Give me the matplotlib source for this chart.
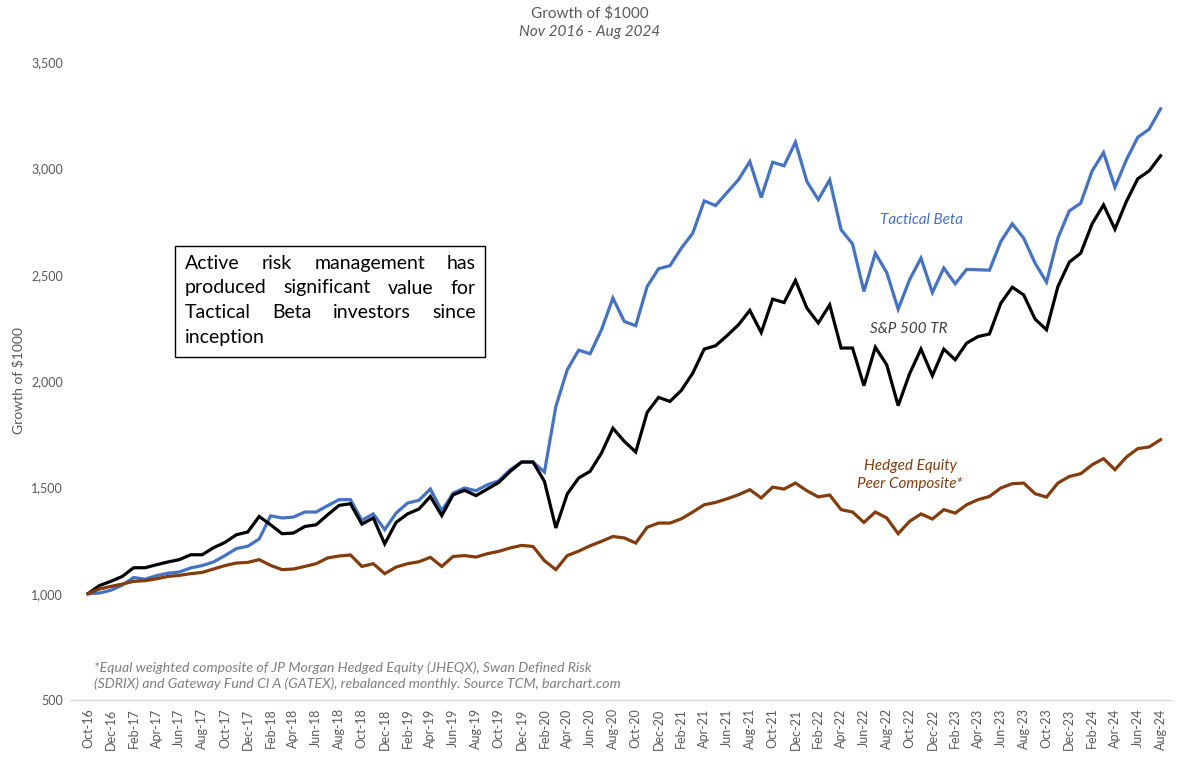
import matplotlib
matplotlib.use('Agg')
import matplotlib.pyplot as plt
from matplotlib.patches import Rectangle
import pandas as pd

# Monthly growth of $1000, Oct-16 .. Aug-24
months = pd.date_range('2016-10-01', '2024-08-01', freq='MS')
month_labels = [d.strftime('%b-%y') for d in months]

tactical_beta = [
    1000, 1003, 1016, 1040, 1076, 1068, 1085, 1096, 1102, 1121,
    1132, 1149, 1179, 1212, 1223, 1257, 1366, 1356, 1360, 1384,
    1384, 1414, 1442, 1442, 1345, 1375, 1301, 1379, 1426, 1439,
    1492, 1390, 1473, 1497, 1484, 1512, 1531, 1583, 1619, 1619,
    1572, 1880, 2053, 2145, 2128, 2241, 2390, 2280, 2260, 2444,
    2528, 2542, 2625, 2695, 2847, 2825, 2886, 2946, 3032, 2863,
    3029, 3012, 3123, 2938, 2853, 2946, 2711, 2645, 2421, 2601,
    2510, 2338, 2476, 2578, 2416, 2531, 2457, 2525, 2523, 2521,
    2656, 2739, 2672, 2554, 2465, 2672, 2800, 2836, 2988, 3074,
    2911, 3040, 3146, 3184, 3280,
]

sp500_tr = [
    1000, 1038, 1058, 1081, 1122, 1122, 1136, 1149, 1160, 1183,
    1183, 1216, 1241, 1277, 1290, 1363, 1324, 1282, 1285, 1316,
    1324, 1371, 1415, 1423, 1327, 1356, 1234, 1335, 1375, 1398,
    1457, 1367, 1465, 1486, 1461, 1492, 1523, 1575, 1619, 1619,
    1528, 1309, 1469, 1544, 1575, 1661, 1778, 1716, 1666, 1852,
    1923, 1904, 1956, 2037, 2150, 2166, 2213, 2264, 2332, 2228,
    2385, 2369, 2473, 2343, 2273, 2358, 2155, 2155, 1978, 2159,
    2076, 1884, 2034, 2150, 2025, 2150, 2100, 2178, 2209, 2221,
    2366, 2441, 2405, 2291, 2241, 2444, 2559, 2601, 2739, 2828,
    2714, 2844, 2951, 2988, 3059,
]

hedged_equity = [
    1000, 1022, 1034, 1045, 1058, 1061, 1070, 1081, 1086, 1094,
    1100, 1116, 1132, 1144, 1147, 1160, 1133, 1113, 1116, 1128,
    1141, 1168, 1177, 1182, 1128, 1141, 1094, 1125, 1141, 1150,
    1171, 1128, 1175, 1179, 1172, 1188, 1199, 1215, 1227, 1222,
    1155, 1113, 1179, 1200, 1225, 1246, 1269, 1262, 1238, 1312,
    1332, 1332, 1352, 1384, 1418, 1429, 1446, 1465, 1489, 1450,
    1501, 1492, 1520, 1484, 1455, 1464, 1395, 1384, 1335, 1384,
    1356, 1282, 1340, 1375, 1351, 1395, 1379, 1418, 1442, 1457,
    1497, 1517, 1520, 1470, 1454, 1520, 1551, 1564, 1606, 1635,
    1583, 1642, 1682, 1690, 1724,
]

y_ticks = [500, 1000, 1500, 2000, 2500, 3000, 3500]

BLUE = '#4472C4'
BROWN = '#843C0C'
GRAY = '#595959'
W, H = 1178, 757

plt.rcParams['font.family'] = ['Lato', 'DejaVu Sans']

fig = plt.figure(figsize=(W / 100, H / 100), dpi=100)
ax = fig.add_axes([70 / W, 57 / H, 1102 / W, 638 / H])

x = list(range(len(month_labels)))
ax.plot(x, tactical_beta, color=BLUE, lw=2.3, solid_joinstyle='miter')
ax.plot(x, sp500_tr, color='black', lw=2.3, solid_joinstyle='miter')
ax.plot(x, hedged_equity, color=BROWN, lw=2.3, solid_joinstyle='miter')

ax.set_xlim(-1.58, 95.0)
ax.set_ylim(500, 3500)
ax.set_yticks(y_ticks)
ax.set_yticklabels([f'{v:,}' for v in y_ticks], fontsize=9, color=GRAY)
ax.set_xticks(x[::2])
ax.set_xticklabels(month_labels[::2], rotation=90, fontsize=9, color=GRAY)
ax.tick_params(length=0)
ax.tick_params(axis='y', pad=5)
ax.tick_params(axis='x', pad=6)
for side in ('left', 'right', 'top'):
    ax.spines[side].set_visible(False)
ax.spines['bottom'].set_color('#D9D9D9')
ax.spines['bottom'].set_linewidth(0.9)

# titles and axis label
fig.text(590 / W, 1 - 13 / H, r'Growth of \$1000', ha='center', va='center',
         fontsize=11, color=GRAY)
fig.text(590 / W, 1 - 32 / H, 'Nov 2016 - Aug 2024', ha='center', va='center',
         fontsize=11, color=GRAY, style='italic')
fig.text(18 / W, 1 - 381 / H, r'Growth of \$1000', ha='center', va='center',
         rotation=90, fontsize=10, color=GRAY)

# series labels
ax.text(922 / W, 1 - 220 / H, 'Tactical Beta', transform=fig.transFigure,
        ha='center', va='center', fontsize=11, style='italic', color=BLUE)
ax.text(909 / W, 1 - 329 / H, 'S&P 500 TR', transform=fig.transFigure,
        ha='center', va='center', fontsize=11, style='italic', color='#404040')
ax.text(910 / W, 1 - 475 / H, 'Hedged Equity\nPeer Composite*',
        transform=fig.transFigure, ha='center', va='center', fontsize=11,
        style='italic', color=BROWN, linespacing=1.35)

# footnote
fig.text(94 / W, 1 - 676 / H,
         '*Equal weighted composite of JP Morgan Hedged Equity (JHEQX), Swan Defined Risk\n'
         '(SDRIX) and Gateway Fund Cl A (GATEX), rebalanced monthly. Source TCM, barchart.com',
         ha='left', va='center', fontsize=10.2, style='italic', color='#7F7F7F',
         linespacing=1.3)

# callout box with justified text
fig.add_artist(Rectangle((175 / W, 1 - 357 / H), 310 / W, 111 / H,
                         transform=fig.transFigure, fill=False,
                         ec='black', lw=1.0))
box_lines = ['Active risk management has',
             'produced significant value for',
             'Tactical Beta investors since',
             'inception']
line_y = [263, 288, 313, 337]
renderer = fig.canvas.get_renderer()
x0, x1 = 185, 476
for i, (line, yy) in enumerate(zip(box_lines, line_y)):
    words = line.split()
    texts = [fig.text(0, 1 - yy / H, w, ha='left', va='center',
                      fontsize=14, color='black') for w in words]
    widths = [t.get_window_extent(renderer).width for t in texts]
    if i < len(box_lines) - 1 and len(words) > 1:
        gap = (x1 - x0 - sum(widths)) / (len(words) - 1)
    else:
        gap = 6
    xp = x0
    for t, w in zip(texts, widths):
        t.set_x(xp / W)
        xp += w + gap

fig.savefig('out.png', dpi=100)
plt.close(fig)
